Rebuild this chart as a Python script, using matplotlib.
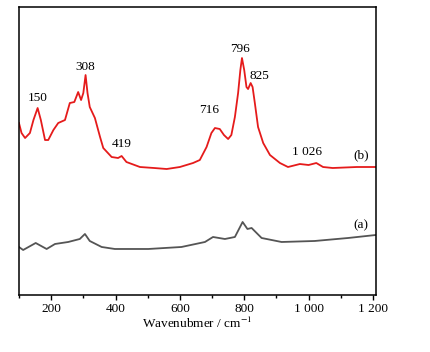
import matplotlib
matplotlib.use("Agg")
import matplotlib.pyplot as plt
from matplotlib.ticker import MultipleLocator, FuncFormatter

plt.rcParams['font.family'] = ['Liberation Serif', 'DejaVu Serif']
plt.rcParams['mathtext.fontset'] = 'stix'

# spectrum (b)
wn_b = [100, 108, 119, 134, 145, 158, 168, 181, 191, 207, 222, 243, 258, 272,
        284, 293, 300, 307, 313, 320, 336, 352, 362, 388, 408, 419, 434, 476,
        520, 559, 600, 641, 662, 683, 698, 709, 724, 737, 750, 760, 771, 781,
        788, 793, 800, 807, 812, 820, 826, 833, 843, 859, 880, 911, 936, 973,
        1000, 1024, 1045, 1075, 1150, 1209]
int_b = [172, 162, 157, 162, 175, 187, 175, 155, 155, 165, 172, 175, 192, 193,
         203, 195, 202, 220, 202, 188, 177, 158, 147, 138, 137, 139, 133, 128,
         127, 126, 128, 132, 135, 148, 162, 167, 166, 160, 156, 160, 178, 202,
         225, 237, 225, 208, 206, 212, 208, 192, 168, 152, 140, 132, 128, 131,
         130, 132, 128, 127, 128, 128]

# spectrum (a)
wn_a = [100, 113, 152, 186, 212, 253, 289, 305, 320, 357, 398, 502, 605, 678,
        703, 740, 771, 795, 810, 823, 854, 916, 1019, 1123, 1209]
int_a = [48, 45, 52, 46, 51, 53, 56, 61, 54, 48, 46, 46, 48, 53,
         58, 56, 58, 73, 66, 67, 57, 53, 54, 57, 60]

peak_labels = ["150", "308", "419", "716", "796", "825", "1 026"]
peak_x = [158, 307, 419, 690, 786, 848, 995]
peak_y = [197, 228, 151, 185, 246, 219, 143]

fig = plt.figure(figsize=(4.31, 3.52), dpi=100)
ax = fig.add_axes([0.044, 0.162, 0.828, 0.818])

ax.plot(wn_b, int_b, color='#e51b1b', lw=1.3)
ax.plot(wn_a, int_a, color='#555555', lw=1.3)

for t, x, y in zip(peak_labels, peak_x, peak_y):
    ax.text(x, y, t, ha='center', va='center', fontsize=9.5)

ax.text(1164, 140, "(b)", ha='center', va='center', fontsize=9.5)
ax.text(1164, 70, "(a)", ha='center', va='center', fontsize=9.5)

ax.set_xlim(100, 1209)
ax.set_ylim(0, 288)
ax.xaxis.set_major_locator(MultipleLocator(200))
ax.xaxis.set_minor_locator(MultipleLocator(100))


def fmt(v, pos):
    s = f"{int(v):,}".replace(",", " ")
    return s


ax.xaxis.set_major_formatter(FuncFormatter(fmt))
ax.set_yticks([])
ax.tick_params(axis='x', which='major', direction='out', length=3.5, width=1, labelsize=9.5, pad=2)
ax.tick_params(axis='x', which='minor', direction='out', length=2, width=1)
for s in ax.spines.values():
    s.set_linewidth(1.1)

ax.set_xlabel(r"Wavenubmer / cm$^{-1}$", fontsize=9.5, labelpad=1)

fig.savefig("out.png", dpi=100)
